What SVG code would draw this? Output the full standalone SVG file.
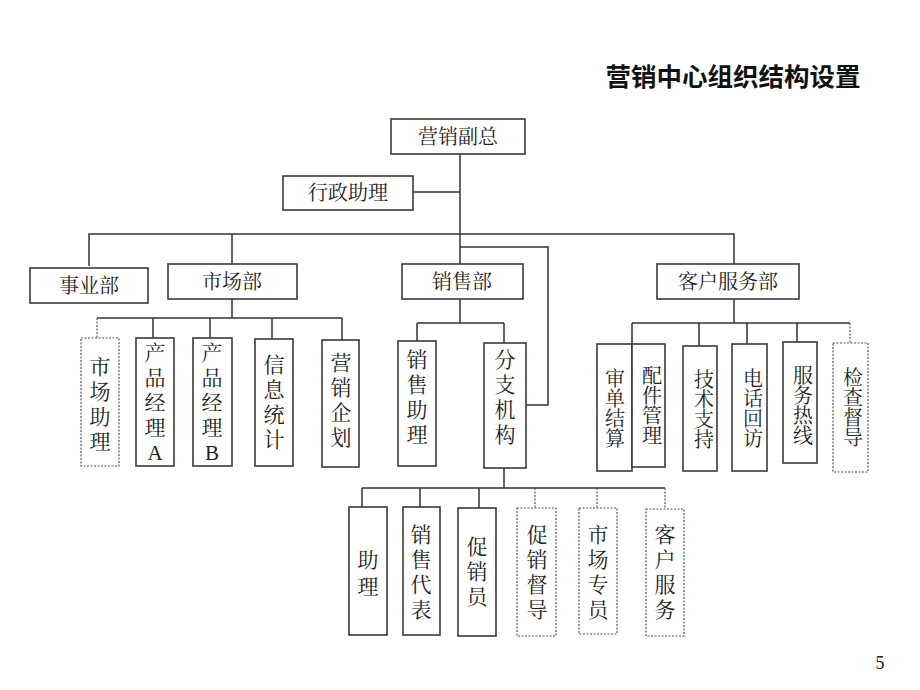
<svg xmlns="http://www.w3.org/2000/svg" width="920" height="690" viewBox="0 0 920 690">
<style>
.box{fill:#fff;stroke:#3a3a3a;stroke-width:1.6}
.dot{fill:#fff;stroke:#555;stroke-width:1.2;stroke-dasharray:2 1.5}
.ln{fill:none;stroke:#333;stroke-width:1.5}
.dl{fill:none;stroke:#555;stroke-width:1.2;stroke-dasharray:2 1.5}
.t{font-family:"Liberation Serif","Noto Serif CJK SC","Noto Sans CJK SC",serif;font-size:20px;fill:#222;text-anchor:middle;dominant-baseline:central}
.v{font-family:"Liberation Serif","Noto Serif CJK SC","Noto Sans CJK SC",serif;font-size:21px;fill:#222;text-anchor:middle;dominant-baseline:central}
.title{font-family:"Liberation Sans","Noto Sans CJK SC",sans-serif;font-size:25.5px;font-weight:bold;fill:#111;text-anchor:middle}
</style>
<rect width="920" height="690" fill="#fff"/>
<text class="title" x="733" y="86">营销中心组织结构设置</text>
<g id="connectors">
<path class="ln" d="M460,154 V234"/>
<path class="ln" d="M413,192 H460"/>
<path class="ln" d="M89,266 V234 H734 V264"/>
<path class="ln" d="M232,234 V264"/>
<path class="ln" d="M460,234 V264"/>
<path class="ln" d="M460,247 H548 V405 H526"/>
<path class="ln" d="M232,299 V318 M97,318 H342 M153,318 V338 M210,318 V338 M272,318 V339 M342,318 V340"/>
<path class="dl" d="M97,318 V338"/>
<path class="ln" d="M460,299 V323 M417,323 H504 M417,323 V341 M504,323 V343"/>
<path class="ln" d="M734,299 V323 M632,323 H850 M632,323 V344 M699,323 V346 M747,323 V344 M797,323 V342"/>
<path class="dl" d="M850,323 V343"/>
<path class="ln" d="M504,468 V488 M362,488 H665 M362,488 V507 M420,488 V507 M479,488 V508"/>
<path class="dl" d="M535,488 V508 M597,488 V508 M665,488 V509"/>
</g>
<g id="n-vp"><rect class="box" x="391" y="119" width="134" height="35"/><text class="t" x="458" y="137">营销副总</text></g>
<g id="n-admin"><rect class="box" x="283" y="176" width="130" height="34"/><text class="t" x="348" y="193">行政助理</text></g>
<g id="n-biz"><rect class="box" x="30" y="268" width="118" height="35"/><text class="t" x="89" y="286">事业部</text></g>
<g id="n-mkt"><rect class="box" x="168" y="264" width="129" height="35"/><text class="t" x="232" y="282">市场部</text></g>
<g id="n-sales"><rect class="box" x="402" y="264" width="121" height="35"/><text class="t" x="462" y="282">销售部</text></g>
<g id="n-cs"><rect class="box" x="657" y="264" width="142" height="35"/><text class="t" x="728" y="282">客户服务部</text></g>

<g id="n-mktasst"><rect class="dot" x="81" y="338" width="38" height="128"/><text class="v"><tspan x="100" y="367">市</tspan><tspan x="100" dy="25">场</tspan><tspan x="100" dy="25">助</tspan><tspan x="100" dy="25">理</tspan></text></g>
<g id="n-pma"><rect class="box" x="136" y="338" width="38" height="128"/><text class="v"><tspan x="155" y="353">产</tspan><tspan x="155" dy="25">品</tspan><tspan x="155" dy="25">经</tspan><tspan x="155" dy="25">理</tspan><tspan x="155" dy="25">A</tspan></text></g>
<g id="n-pmb"><rect class="box" x="193" y="338" width="39" height="128"/><text class="v"><tspan x="212" y="353">产</tspan><tspan x="212" dy="25">品</tspan><tspan x="212" dy="25">经</tspan><tspan x="212" dy="25">理</tspan><tspan x="212" dy="25">B</tspan></text></g>
<g id="n-info"><rect class="box" x="255" y="339" width="38" height="127"/><text class="v"><tspan x="274" y="365">信</tspan><tspan x="274" dy="25">息</tspan><tspan x="274" dy="25">统</tspan><tspan x="274" dy="25">计</tspan></text></g>
<g id="n-plan"><rect class="box" x="322" y="340" width="37" height="127"/><text class="v"><tspan x="341" y="363">营</tspan><tspan x="341" dy="25">销</tspan><tspan x="341" dy="25">企</tspan><tspan x="341" dy="25">划</tspan></text></g>

<g id="n-salesasst"><rect class="box" x="398" y="341" width="38" height="125"/><text class="v"><tspan x="417" y="360">销</tspan><tspan x="417" dy="25">售</tspan><tspan x="417" dy="25">助</tspan><tspan x="417" dy="25">理</tspan></text></g>
<g id="n-branch"><rect class="box" x="484" y="343" width="42" height="125"/><text class="v"><tspan x="505" y="360">分</tspan><tspan x="505" dy="25">支</tspan><tspan x="505" dy="25">机</tspan><tspan x="505" dy="25">构</tspan></text></g>

<g id="n-audit"><rect class="box" x="597" y="344" width="35" height="127"/><text class="t"><tspan x="615" y="379">审</tspan><tspan x="615" dy="20">单</tspan><tspan x="615" dy="20">结</tspan><tspan x="615" dy="20">算</tspan></text></g>
<g id="n-parts"><rect class="box" x="632" y="344" width="33" height="123"/><text class="t"><tspan x="652" y="376">配</tspan><tspan x="652" dy="20">件</tspan><tspan x="652" dy="20">管</tspan><tspan x="652" dy="20">理</tspan></text></g>
<g id="n-tech"><rect class="box" x="683" y="346" width="34" height="125"/><text class="t"><tspan x="704" y="380">技</tspan><tspan x="704" dy="20">术</tspan><tspan x="704" dy="20">支</tspan><tspan x="704" dy="20">持</tspan></text></g>
<g id="n-call"><rect class="box" x="732" y="344" width="35" height="127"/><text class="t"><tspan x="753" y="379">电</tspan><tspan x="753" dy="20">话</tspan><tspan x="753" dy="20">回</tspan><tspan x="753" dy="20">访</tspan></text></g>
<g id="n-hotline"><rect class="box" x="783" y="342" width="34" height="121"/><text class="t"><tspan x="803" y="376">服</tspan><tspan x="803" dy="20">务</tspan><tspan x="803" dy="20">热</tspan><tspan x="803" dy="20">线</tspan></text></g>
<g id="n-inspect"><rect class="dot" x="833" y="343" width="35" height="129"/><text class="t"><tspan x="853" y="378">检</tspan><tspan x="853" dy="20">查</tspan><tspan x="853" dy="20">督</tspan><tspan x="853" dy="20">导</tspan></text></g>

<g id="n-asst"><rect class="box" x="349" y="507" width="38" height="128"/><text class="v"><tspan x="368" y="560">助</tspan><tspan x="368" dy="27">理</tspan></text></g>
<g id="n-rep"><rect class="box" x="403" y="507" width="37" height="128"/><text class="v"><tspan x="421" y="535">销</tspan><tspan x="421" dy="25">售</tspan><tspan x="421" dy="25">代</tspan><tspan x="421" dy="25">表</tspan></text></g>
<g id="n-promoter"><rect class="box" x="458" y="508" width="38" height="128"/><text class="v"><tspan x="477" y="547">促</tspan><tspan x="477" dy="25">销</tspan><tspan x="477" dy="25">员</tspan></text></g>
<g id="n-promsup"><rect class="dot" x="517" y="508" width="39" height="128"/><text class="v"><tspan x="537" y="535">促</tspan><tspan x="537" dy="25">销</tspan><tspan x="537" dy="25">督</tspan><tspan x="537" dy="25">导</tspan></text></g>
<g id="n-mktspec"><rect class="dot" x="579" y="508" width="38" height="126"/><text class="v"><tspan x="598" y="535">市</tspan><tspan x="598" dy="25">场</tspan><tspan x="598" dy="25">专</tspan><tspan x="598" dy="25">员</tspan></text></g>
<g id="n-custsvc"><rect class="dot" x="646" y="509" width="38" height="127"/><text class="v"><tspan x="665" y="535">客</tspan><tspan x="665" dy="25">户</tspan><tspan x="665" dy="25">服</tspan><tspan x="665" dy="25">务</tspan></text></g>

<text x="880" y="669" style="font-family:'Liberation Serif',serif;font-size:18px;fill:#222;text-anchor:middle">5</text>
</svg>
